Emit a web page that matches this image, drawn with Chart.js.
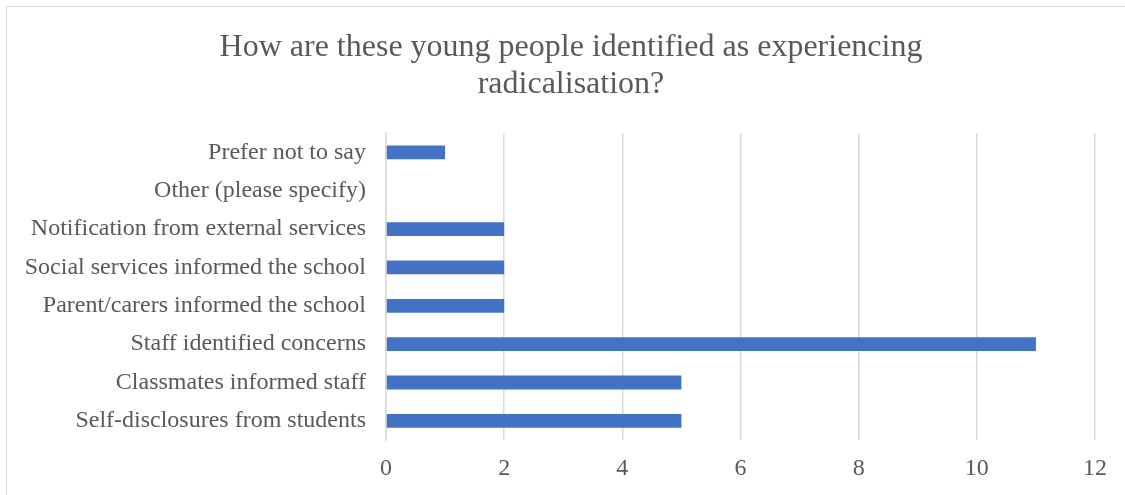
<!DOCTYPE html>
<html>
<head>
<meta charset="utf-8">
<script src="https://cdn.jsdelivr.net/npm/chart.js@4"></script>
<style>
    html, body { margin: 0; padding: 0; background: #ffffff; overflow: hidden; }
    .chart-box {
        position: absolute;
        left: 6px;
        top: 6px;
        width: 1140px;
        height: 510px;
        border: 1px solid #d9d9d9;
    }
    .chart-box canvas { position: absolute; left: 0; top: 0; }
</style>
</head>
<body>
<div class="chart-box">
    <canvas id="identChart" width="1118" height="488"></canvas>
</div>
<script>
// Survey responses: how young people were identified
const categories = [
    'Prefer not to say',
    'Other (please specify)',
    'Notification from external services',
    'Social services informed the school',
    'Parent/carers informed the school',
    'Staff identified concerns',
    'Classmates informed staff',
    'Self-disclosures from students'
];
const responses = [1, 0, 2, 2, 2, 11, 5, 5];
const xTicks = [0, 2, 4, 6, 8, 10, 12];

const textColor = '#595959';
const gridColor = '#d9d9d9';
const serif = "'Liberation Serif', 'Times New Roman', serif";

// nudge the title block so it sits centred over the whole frame
const titleShift = {
    id: 'titleShift',
    afterLayout(chart) {
        if (chart.titleBlock) {
            chart.titleBlock.left += 40;
        }
    }
};

document.addEventListener('DOMContentLoaded', function() {
    const canvas = document.getElementById('identChart');

    new Chart(canvas, {
        type: 'bar',
        data: {
            labels: categories,
            datasets: [{
                data: responses,
                backgroundColor: '#4472c4',
                borderWidth: 0,
                barPercentage: 0.36,
                categoryPercentage: 1.0
            }]
        },
        options: {
            indexAxis: 'y',
            responsive: false,
            animation: false,
            layout: {
                padding: { left: 0, right: 30, top: 0, bottom: 0 }
            },
            plugins: {
                legend: { display: false },
                tooltip: { enabled: false },
                title: {
                    display: true,
                    text: ['How are these young people identified as experiencing', 'radicalisation?'],
                    color: textColor,
                    font: { family: serif, size: 32, weight: 'normal', lineHeight: 1.16 },
                    padding: { top: 22, bottom: 30 }
                }
            },
            scales: {
                x: {
                    min: 0,
                    max: 12,
                    afterBuildTicks: function(scale) {
                        scale.ticks = xTicks.map(v => ({ value: v }));
                    },
                    afterFit: function(scale) {
                        scale.height = 55;
                    },
                    grid: {
                        color: gridColor,
                        lineWidth: 1.5,
                        drawTicks: false
                    },
                    border: { display: false },
                    ticks: {
                        color: textColor,
                        padding: 14,
                        maxRotation: 0,
                        font: { family: serif, size: 24 }
                    }
                },
                y: {
                    afterFit: function(scale) {
                        scale.width = 379;
                    },
                    grid: { display: false, drawTicks: false },
                    border: { display: true, color: gridColor, width: 1.5 },
                    ticks: {
                        color: textColor,
                        padding: 20,
                        autoSkip: false,
                        font: { family: serif, size: 24 }
                    }
                }
            }
        },
        plugins: [titleShift]
    });
});
</script>
</body>
</html>
